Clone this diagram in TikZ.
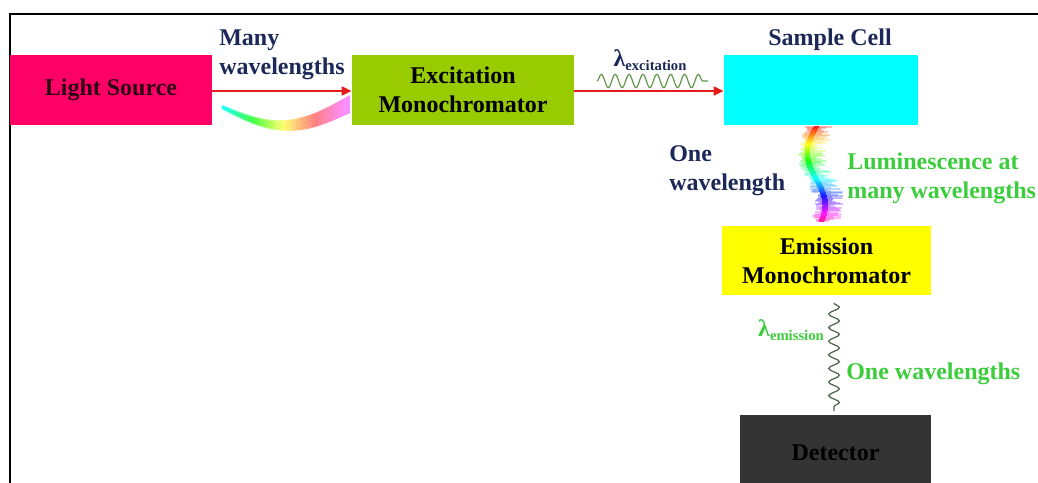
\documentclass[tikz,border=0pt]{standalone}
\usepackage{fontspec}
\setmainfont{Liberation Serif}
\usetikzlibrary{arrows.meta,decorations.pathmorphing}

\definecolor{srcmag}{RGB}{255,0,102}
\definecolor{excgreen}{RGB}{153,204,0}
\definecolor{cellcyan}{RGB}{0,255,255}
\definecolor{emiyellow}{RGB}{255,255,0}
\definecolor{detgray}{RGB}{52,52,52}
\definecolor{labnavy}{RGB}{28,40,88}
\definecolor{labgreen}{RGB}{60,205,60}
\definecolor{arrred}{RGB}{228,28,28}
\definecolor{waveexc}{RGB}{95,150,75}
\definecolor{waveemi}{RGB}{75,95,75}
\definecolor{srctext}{RGB}{45,0,20}

\begin{document}
\begin{tikzpicture}[x=0.75pt,y=0.75pt,yscale=-1,xscale=1,
  blk/.style={inner sep=0pt,align=center,font=\fontsize{18}{22}\selectfont\bfseries},
  lab/.style={inner sep=0pt,font=\fontsize{18}{22}\selectfont\bfseries},
  redarrow/.style={draw=arrred,line width=1.9pt,-{Triangle[length=7.5pt,width=6.5pt]}},
  wave/.style={line width=0.9pt,decorate,decoration={snake,segment length=#1,amplitude=4pt}}]
\useasboundingbox (0,0) rectangle (1038,482);
\clip (0,0) rectangle (1038,482);

%Frame
\draw [line width=1.6pt] (10,495) -- (10,14) -- (1045,14);

%Blocks
\node [blk,fill=srcmag,text=srctext,minimum width=151.5pt,minimum height=52.5pt] (src) at (111,90) {Light Source};
\node [blk,fill=excgreen,minimum width=166.5pt,minimum height=52.5pt] (exc) at (463,90) {Excitation\\Monochromator};
\node [blk,fill=cellcyan,minimum width=145.5pt,minimum height=52.5pt] (cell) at (821,90) {};
\node [blk,fill=emiyellow,minimum width=156.75pt,minimum height=51.75pt] (emi) at (826.5,260.5) {Emission\\Monochromator};
\node [blk,fill=detgray,minimum width=143.25pt,minimum height=56.25pt] (det) at (835.5,452.5) {Detector};

%Labels
\node [lab,text=labnavy,align=left,anchor=west] (many) at (219,55) {Many\\wavelengths};
\node [lab,text=labnavy] (cellname) at (830,40) {Sample Cell};
\node [lab,text=labnavy] (lexc) at (650,60) {λ\raisebox{-0.3ex}{\fontsize{11}{11}\selectfont excitation}};
\node [lab,text=labnavy,align=left,anchor=west] (onewl) at (669,171) {One\\wavelength};
\node [lab,text=labgreen,align=left,anchor=west] (lumi) at (847,178) {Luminescence at\\many wavelengths};
\node [lab,text=labgreen] (lemi) at (791,330) {λ\raisebox{-0.3ex}{\fontsize{11}{11}\selectfont emission}};
\node [lab,text=labgreen,anchor=west] (onewls) at (846,374) {One wavelengths};

%Arrows
\draw [redarrow] ([yshift=0.75pt]src.east) -- ([yshift=0.75pt]exc.west);
\draw [redarrow] ([yshift=0.75pt]exc.east) -- ([yshift=0.75pt]cell.west);

%Waves
\coordinate (wa) at (597,81);
\coordinate (wb) at (708,81);
\draw [wave=10.4pt,draw=waveexc,decoration={amplitude=5pt}] (wa) -- (wb);
\coordinate (wc) at (834,303);
\coordinate (wd) at (834,411);
\draw [wave=10.2pt,draw=waveemi] (wc) -- (wd);

%Rainbow band under the first arrow
\foreach \s in {-3,...,3}{
  \foreach \i in {0,...,39}{
    \pgfmathsetmacro\ta{\i/40}
    \pgfmathsetmacro\tb{(\i+1)/40}
    \pgfmathsetmacro\hue{mod(1.5-0.7*\ta,1)}
    \definecolor{band}{hsb}{\hue,0.9,1}
    \draw [band,line width=1.6pt,opacity=.5]
      ({222+128*\ta},{107+20*sin(180*\ta)-3*\ta+\s*(0.4+2.2*\ta)}) --
      ({222+128*\tb},{107+20*sin(180*\tb)-3*\tb+\s*(0.4+2.2*\tb)});
  }
}

%Spectrum between sample cell and emission monochromator
\pgfmathsetseed{11}
\foreach \i in {0,...,94}{
  \pgfmathsetmacro\t{\i/94}
  \pgfmathsetmacro\yy{127+\i}
  \pgfmathsetmacro\xc{816-9*sin(324*\t)}
  \pgfmathsetmacro\hue{min(0.9*\t,0.92)}
  \pgfmathsetmacro\lr{5+16*rnd}
  \pgfmathsetmacro\ll{3+8*rnd}
  \definecolor{band}{hsb}{\hue,0.9,1}
  \draw [band,opacity=.3,line width=0.9pt] ({\xc-\ll},\yy) -- ({\xc+\lr},\yy);
  \draw [band,line width=0.9pt] ({\xc-2.5},\yy) -- ({\xc+3},\yy);
}

\end{tikzpicture}
\end{document}
